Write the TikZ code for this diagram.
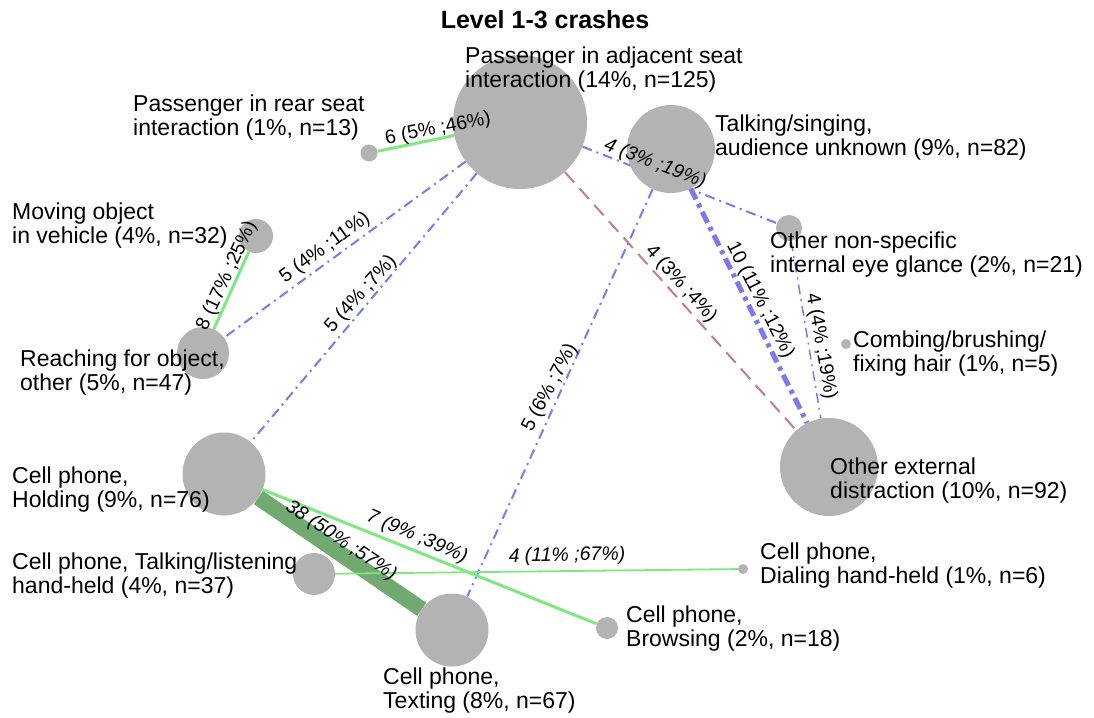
\documentclass[tikz,border=0pt]{standalone}
\usepackage{fontspec}
\setmainfont{Liberation Sans}
\definecolor{nodegray}{RGB}{179,179,179}
\definecolor{lgreen}{RGB}{128,232,128}
\definecolor{dgreen}{RGB}{112,170,112}
\definecolor{eblue}{RGB}{122,122,238}
\definecolor{ebrown}{RGB}{192,128,128}
\pgfdeclarelayer{bg}
\pgfdeclarelayer{edges}
\pgfsetlayers{bg,edges,main}
\begin{document}
\begin{tikzpicture}[x=1pt,y=-1pt,
  dot/.style={circle,fill=nodegray,draw=none,inner sep=0pt,minimum size=#1},
  lbl/.style={anchor=base west,align=left,inner sep=0pt,font=\fontsize{23}{23.5}\selectfont},
  elbl/.style={inner sep=0pt,font=\fontsize{19.5}{19.5}\selectfont},
  ilbl/.style={elbl,font=\fontsize{19.5}{19.5}\selectfont\itshape},
  dashdot/.style={dash pattern=on 10pt off 5pt on 2pt off 5pt},
  thickdashdot/.style={dash pattern=on 12pt off 5pt on 4pt off 5pt},
  longdash/.style={dash pattern=on 14pt off 8pt}]
\begin{pgfonlayer}{bg}
\fill[white] (0,0) rectangle (1094,717);
\end{pgfonlayer}
\useasboundingbox (0,0) rectangle (1094,717);

% nodes (circles)
\node[dot=134pt] (PA) at (520,122) {};
\node[dot=88pt] (TS) at (671,149) {};
\node[dot=17pt] (PR) at (369,153) {};
\node[dot=34pt] (MO) at (256,236) {};
\node[dot=52pt] (RO) at (203,353) {};
\node[dot=26pt] (ON) at (789,228) {};
\node[dot=10pt] (CB) at (846,344) {};
\node[dot=98pt] (OE) at (829,467) {};
\node[dot=83pt] (CH) at (224,474) {};
\node[dot=42pt] (TL) at (314,574) {};
\node[dot=10pt] (DI) at (743,569) {};
\node[dot=73pt] (TX) at (452,630) {};
\node[dot=22pt] (BR) at (607,628) {};

% edges
\begin{pgfonlayer}{edges}
\draw[lgreen,line width=3pt] (PR) -- (PA);
\draw[eblue,line width=2pt,dashdot] (PA) -- (ON);
\draw[eblue,line width=2pt,dashdot] (PA) -- (RO);
\draw[eblue,line width=2pt,dashdot] (PA) -- (CH);
\draw[ebrown,line width=2pt,longdash] (PA) -- (OE);
\draw[eblue,line width=5pt,thickdashdot] (TS) -- (OE);
\draw[eblue,line width=2pt,dashdot] (TS) -- (TX);
\draw[eblue,line width=1.5pt,dashdot] (ON) -- (OE);
\draw[lgreen,line width=3pt] (MO) -- (RO);
\draw[dgreen,line width=16pt] (CH) -- (TX);
\draw[lgreen,line width=3pt] (CH) -- (BR);
\draw[lgreen,line width=1.8pt] (TL) -- (DI);
\end{pgfonlayer}

% edge labels
\node[elbl,rotate=11] (l1) at (438,129) {6 (5\% ;46\%)};
\node[ilbl,rotate=-21] (l2) at (655,164) {4 (3\% ;19\%)};
\node[elbl,rotate=36] (l3) at (325,248) {5 (4\% ;11\%)};
\node[elbl,rotate=48] (l4) at (361,294) {5 (4\% ;7\%)};
\node[elbl,rotate=65] (l5) at (227,276) {8 (17\% ;25\%)};
\node[elbl,rotate=-48] (l6) at (681,284) {4 (3\% ;4\%)};
\node[elbl,rotate=-63] (l7) at (760,300) {10 (11\% ;12\%)};
\node[elbl,rotate=-80] (l8) at (821,346) {4 (4\% ;19\%)};
\node[elbl,rotate=62] (l9) at (550,388) {5 (6\% ;7\%)};
\node[ilbl,rotate=-34] (l10) at (341,541) {38 (50\% ;57\%)};
\node[ilbl,rotate=-23] (l11) at (417,537) {7 (9\% ;39\%)};
\node[ilbl,rotate=1] (l12) at (567,556) {4 (11\% ;67\%)};

% node labels (anchor = baseline of last line)
\node[anchor=base,inner sep=0pt,font=\fontsize{25}{25}\selectfont\bfseries] (title) at (545,29) {Level 1-3 crashes};
\node[lbl] (tPA) at (465,87) {Passenger in adjacent seat\\interaction (14\%, n=125)};
\node[lbl] (tPR) at (133,135) {Passenger in rear seat\\interaction (1\%, n=13)};
\node[lbl] (tTS) at (715,155) {Talking/singing,\\audience unknown (9\%, n=82)};
\node[lbl] (tMO) at (12,243) {Moving object\\in vehicle (4\%, n=32)};
\node[lbl] (tON) at (770,272) {Other non-specific\\internal eye glance (2\%, n=21)};
\node[lbl] (tCB) at (853,371) {Combing/brushing/\\fixing hair (1\%, n=5)};
\node[lbl] (tRO) at (20,390) {Reaching for object,\\other (5\%, n=47)};
\node[lbl] (tOE) at (830,498) {Other external\\distraction (10\%, n=92)};
\node[lbl] (tCH) at (12,507) {Cell phone,\\Holding (9\%, n=76)};
\node[lbl] (tTL) at (12,593) {Cell phone, Talking/listening\\hand-held (4\%, n=37)};
\node[lbl] (tDI) at (760,583) {Cell phone,\\Dialing hand-held (1\%, n=6)};
\node[lbl] (tBR) at (626,646) {Cell phone,\\Browsing (2\%, n=18)};
\node[lbl] (tTX) at (383,708) {Cell phone,\\Texting (8\%, n=67)};
\end{tikzpicture}
\end{document}
